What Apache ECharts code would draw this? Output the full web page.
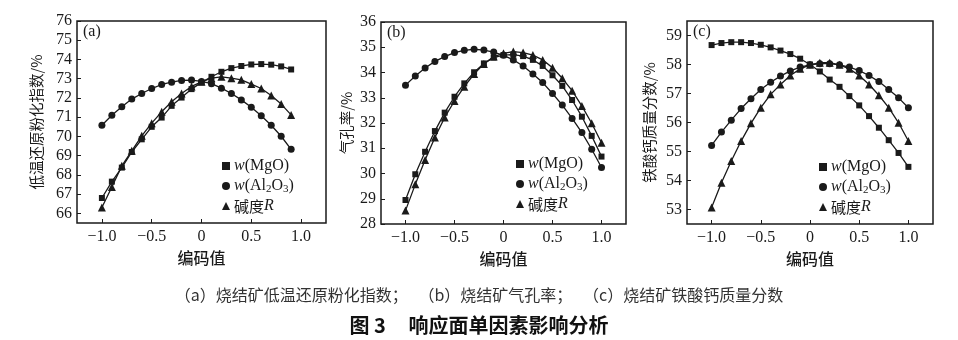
<!DOCTYPE html>
<html>
<head>
<meta charset="utf-8">
<script src="https://cdn.jsdelivr.net/npm/echarts@6/dist/echarts.min.js"></script>
<style>
  html, body { margin: 0; padding: 0; background: #fff; }
  #chart { width: 958px; height: 340px; }
</style>
</head>
<body>
<div id="chart"></div>
<script>
// Coded factor levels (x axis of every panel)
const codesA = [-1.0,-0.9,-0.8,-0.7,-0.6,-0.5,-0.4,-0.3,-0.2,-0.1,0,0.1,0.2,0.3,0.4,0.5,0.6,0.7,0.8,0.9];
const codesBC = [-1.0,-0.9,-0.8,-0.7,-0.6,-0.5,-0.4,-0.3,-0.2,-0.1,0,0.1,0.2,0.3,0.4,0.5,0.6,0.7,0.8,0.9,1.0];

// (a) low-temperature reduction degradation index, %
const rdiMgO  = [66.80,67.65,68.38,69.19,69.85,70.50,70.98,71.59,72.02,72.46,72.81,73.10,73.36,73.55,73.66,73.74,73.76,73.73,73.64,73.48];
const rdiAl2O3 = [70.58,71.10,71.54,71.94,72.23,72.49,72.70,72.82,72.91,72.93,72.86,72.74,72.51,72.23,71.90,71.52,71.07,70.58,70.01,69.33];
const rdiR    = [66.31,67.37,68.47,69.25,70.03,70.69,71.28,71.80,72.23,72.60,72.84,73.03,73.10,73.03,72.94,72.72,72.49,72.13,71.68,71.12];

// (b) porosity, %
const porMgO  = [28.95,29.97,30.86,31.68,32.41,33.04,33.57,34.01,34.36,34.59,34.69,34.71,34.65,34.50,34.26,33.89,33.47,32.91,32.25,31.49,30.67];
const porAl2O3 = [33.50,33.86,34.18,34.44,34.63,34.79,34.88,34.92,34.89,34.81,34.68,34.50,34.26,33.94,33.60,33.17,32.71,32.18,31.62,30.96,30.24];
const porR    = [28.53,29.57,30.53,31.43,32.22,32.87,33.44,33.94,34.34,34.63,34.76,34.83,34.79,34.69,34.50,34.19,33.77,33.28,32.67,31.99,31.22];

// (c) calcium ferrite mass fraction, %
const cfMgO  = [58.67,58.74,58.77,58.77,58.74,58.68,58.59,58.48,58.36,58.20,58.00,57.76,57.48,57.23,56.91,56.59,56.22,55.82,55.39,54.95,54.47];
const cfAl2O3 = [55.21,55.67,56.08,56.48,56.82,57.14,57.39,57.60,57.78,57.91,57.99,58.03,58.03,57.99,57.91,57.79,57.62,57.41,57.14,56.85,56.51];
const cfR    = [53.07,53.92,54.67,55.36,55.97,56.51,56.97,57.31,57.62,57.85,57.99,58.06,58.06,57.99,57.85,57.62,57.31,56.94,56.51,55.99,55.36];

// Tick labels
const xTicks = [-1.0,-0.5,0,0.5,1.0];
const yTicksA = [66,67,68,69,70,71,72,73,74,75,76];
const yTicksB = [28,29,30,31,32,33,34,35,36];
const yTicksC = [53,54,55,56,57,58,59];

const seriesNames = ['w(MgO)', 'w(Al2O3)', '碱度R'];
const panelTags = ['(a)', '(b)', '(c)'];
const yNames = ['低温还原粉化指数/%', '气孔率/%', '铁酸钙质量分数/%'];
const xName = '编码值';
const caption1 = '（a）烧结矿低温还原粉化指数；   （b）烧结矿气孔率；   （c）烧结矿铁酸钙质量分数';
const caption2 = '图 3     响应面单因素影响分析';

const SERIF = "'Liberation Serif', 'Times New Roman', 'Noto Sans CJK SC', serif";
const CJK = "'Noto Sans CJK SC', sans-serif";
const INK = '#1a1a1a';

const grids = [
  { left: 77,  top: 21, width: 249, height: 202 },
  { left: 381, top: 22, width: 245, height: 202 },
  { left: 687, top: 21, width: 246, height: 203 }
];
const yRanges = [
  { min: 65.5, max: 76, interval: 0.5, ticks: yTicksA },
  { min: 28,   max: 36, interval: 1,   ticks: yTicksB },
  { min: 52.5, max: 59.5, interval: 0.5, ticks: yTicksC }
];
const yNameGaps = [33, 27, 30];
const panelData = [
  [rdiMgO, rdiAl2O3, rdiR],
  [porMgO, porAl2O3, porR],
  [cfMgO, cfAl2O3, cfR]
];
const panelCodes = [codesA, codesBC, codesBC];
const symbols = [
  { symbol: 'rect', size: 6 },
  { symbol: 'circle', size: 7 },
  { symbol: 'triangle', size: 8 }
];
const legendPos = [
  { left: 222, top: 157 },
  { left: 516, top: 155 },
  { left: 819, top: 158 }
];

function fmtX(v) {
  if (Math.abs(v) < 1e-9) return '0';
  return (v < 0 ? '\u2212' : '') + Math.abs(v).toFixed(1);
}

const xAxes = grids.map((g, i) => ({
  type: 'value', gridIndex: i, min: -1.25, max: 1.25, interval: 0.25,
  name: xName, nameLocation: 'middle', nameGap: 21,
  nameTextStyle: { fontFamily: CJK, fontSize: 16, fontWeight: 500, color: INK },
  axisLine: { show: false, onZero: false },
  axisTick: { show: true, inside: true, length: 4, customValues: xTicks, lineStyle: { color: INK, width: 1 } },
  axisLabel: { customValues: xTicks, formatter: fmtX, margin: 6, fontFamily: SERIF, fontSize: 16, color: INK },
  splitLine: { show: false }
}));

const yAxes = grids.map((g, i) => ({
  type: 'value', gridIndex: i, min: yRanges[i].min, max: yRanges[i].max, interval: yRanges[i].interval,
  name: yNames[i], nameLocation: 'middle', nameGap: yNameGaps[i], nameRotate: 90,
  nameTextStyle: { fontFamily: CJK, fontSize: 14.5, color: INK },
  axisLine: { show: false, onZero: false },
  axisTick: { show: true, inside: true, length: 4, customValues: yRanges[i].ticks, lineStyle: { color: INK, width: 1 } },
  axisLabel: { customValues: yRanges[i].ticks, margin: 5, fontFamily: SERIF, fontSize: 16, color: INK },
  splitLine: { show: false }
}));

const series = [];
panelData.forEach((sets, p) => {
  sets.forEach((vals, k) => {
    series.push({
      name: seriesNames[k], type: 'line', xAxisIndex: p, yAxisIndex: p,
      data: panelCodes[p].map((c, j) => [c, vals[j]]),
      symbol: symbols[k].symbol, symbolSize: symbols[k].size, showAllSymbol: true,
      lineStyle: { color: INK, width: 1.3 }, itemStyle: { color: INK },
      emphasis: { disabled: true }, animation: false, z: 3 + k
    });
  });
});

const legendRich = {
  i: { fontFamily: SERIF, fontStyle: 'italic', fontSize: 16, color: INK },
  n: { fontFamily: SERIF, fontSize: 16, color: INK },
  s: { fontFamily: SERIF, fontSize: 11, color: INK, verticalAlign: 'bottom', lineHeight: 12 },
  c: { fontFamily: CJK, fontSize: 15, color: INK }
};
function legendText(name) {
  if (name === 'w(MgO)') return '{i|w}{n|(MgO)}';
  if (name === 'w(Al2O3)') return '{i|w}{n|(Al}{s|2}{n|O}{s|3}{n|)}';
  return '{c|碱度}{i|R}';
}

const legends = legendPos.map((pos) => ({
  orient: 'vertical', left: pos.left, top: pos.top,
  itemWidth: 8, itemHeight: 8, itemGap: 2, padding: 0,
  data: [
    { name: seriesNames[0], icon: 'rect' },
    { name: seriesNames[1], icon: 'circle' },
    { name: seriesNames[2], icon: 'triangle' }
  ],
  formatter: legendText,
  textStyle: { rich: legendRich, lineHeight: 18, padding: [0, 0, 0, -1] },
  selectedMode: false,
  itemStyle: { color: INK }
}));

const tags = grids.map((g, i) => ({
  type: 'text', left: g.left + 6, top: g.top + 3,
  style: { text: panelTags[i], font: "16px 'Liberation Serif', serif", fill: INK }
}));

const option = {
  backgroundColor: '#fff',
  animation: false,
  grid: grids.map(g => Object.assign({ show: true, borderColor: INK, borderWidth: 1.5, backgroundColor: 'transparent' }, g)),
  xAxis: xAxes,
  yAxis: yAxes,
  legend: legends,
  series: series,
  title: [
    { text: caption1, left: 'center', top: 282,
      textStyle: { fontFamily: CJK, fontSize: 16, fontWeight: 'normal', color: '#333' } },
    { text: caption2, left: 'center', top: 310,
      textStyle: { fontFamily: CJK, fontSize: 20, fontWeight: 'bold', color: '#111' } }
  ],
  graphic: tags
};

const chart = echarts.init(document.getElementById('chart'), null, { renderer: 'canvas' });
chart.setOption(option);
</script>
</body>
</html>
